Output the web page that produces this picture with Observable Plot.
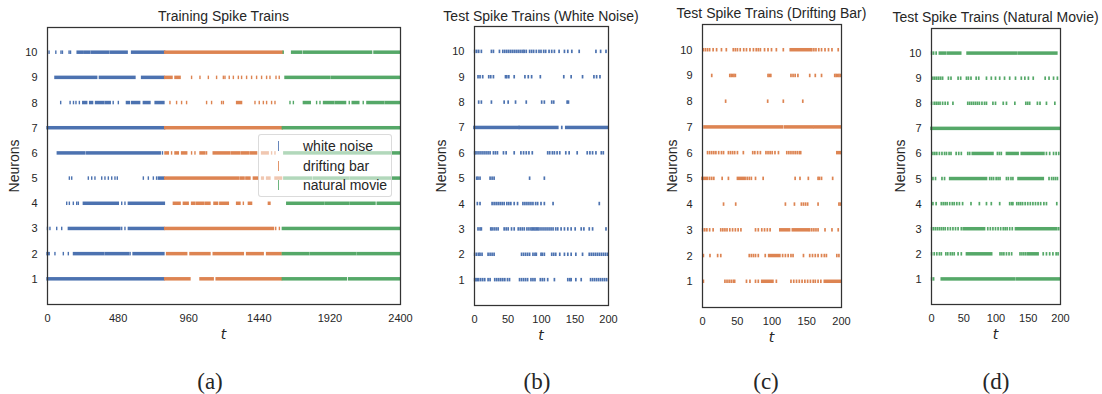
<!DOCTYPE html>
<html>
<head>
<meta charset="utf-8">
<script src="https://cdn.jsdelivr.net/npm/d3@7"></script>
<script src="https://cdn.jsdelivr.net/npm/@observablehq/plot@0.6"></script>
<style>
  html, body { margin: 0; padding: 0; background: #fff; }
  #root { position: relative; width: 1102px; height: 394px; overflow: hidden;
          font-family: "Liberation Sans", Arial, sans-serif; color: #262626; }
  .abs { position: absolute; white-space: nowrap; line-height: 1; }
  .center { transform: translate(-50%, -50%); }
  .title { font-size: 14px; }
  .ylab { font-size: 14px; transform: translate(-50%, -50%) rotate(-90deg); }
  .xlab { font-family: "DejaVu Sans", sans-serif; font-style: italic; font-size: 14px; }
  .cap { font-family: "Liberation Serif", "DejaVu Serif", serif; font-size: 23px; }
  .panel { position: absolute; top: 0; }
  .legend { position: absolute; border: 1px solid rgba(210,210,210,0.8); border-radius: 3px;
            background: rgba(255,255,255,0.55); box-sizing: border-box; }
  .lgtext { font-size: 14px; }
</style>
</head>
<body>
<div id="root"></div>
<script>
// ---------------- data ----------------
const neurons = [1, 2, 3, 4, 5, 6, 7, 8, 9, 10];
const trainTicks = [0, 480, 960, 1440, 1920, 2400];
const testTicks = [0, 50, 100, 150, 200];
const stimuli = ["white noise", "drifting bar", "natural movie"];
const stimulusColors = ["#4c72b0", "#dd8452", "#55a868"];
const trainWindows = [[0, 800], [800, 1600], [1600, 2400]];

// spike trains: one list per neuron (1..10); a number is a single spike,
// a pair is a dense burst of spikes from start to end
const trainingSpikes = [
  [[0,795],[800,972],[1040,1130],[1150,1595],[1600,2035],[2050,2400]],
  [[0,15],54,111,145,[180,385],[395,555],565,[585,795],[813,950],[972,1108],[1130,1335],[1357,1470],[1493,1592],[1600,1780],[1790,2100],[2110,2400]],
  [3,20,66,100,[145,496],508,530,[553,795],[800,1540],1555,1580,[1600,2400]],
  [134,152,179,202,213,[247,485],508,530,[553,798],[859,905],[927,960],[983,1006],[1017,1063],[1074,1108],[1135,1160],[1175,1233],[1289,1312],1335,[1369,1391],[1505,1516],[1630,1880],[1890,2050],[2060,2230],[2245,2400]],
  [152,168,281,304,326,372,394,417,440,462,478,655,689,723,745,[757,795],[800,1301],[1312,1340],[1352,1380],[1403,1437],[1459,1471],[1493,1516],[1550,1595],[1610,1800],[1812,2050],[2060,2400]],
  [[70,258],[270,770],785,[802,825],847,[870,893],[915,950],983,1006,[1040,1074],1085,[1130,1244],[1255,1312],[1323,1369],[1380,1425],[1459,1504],1527,1550,[1610,2400]],
  [[0,2400]],
  [93,157,180,197,220,[243,270],[290,310],[330,385],[395,430],450,485,[540,560],[575,630],[655,700],[735,795],836,881,915,949,1085,1119,1187,1199,[1289,1323],1414,1443,1471,1493,1527,1550,1652,1675,[1743,1790],1833,1856,[1880,1950],[1960,2030],2055,[2075,2120],2150,[2175,2290],[2300,2400]],
  [[54,338],[356,598],[643,795],[800,850],[870,905],983,1040,1097,1153,1199,1210,1239,1267,1301,1323,1357,1391,1425,1459,1493,1516,1557,1579,[1618,1924],[1935,2400]],
  [14,60,95,105,150,160,[205,240],[250,290],[300,420],[430,545],[575,1600],1606,[1663,1731],[1743,2207],[2223,2400]]
];

const whiteNoiseSpikes = [
  [1,3,5,7,10,13,16,21,24,31,34,37,40,43,46,50,53,68,71,74,77,80,85,88,91,99,102,105,110,120,140,143,145,152,160,174,177,180,183,186,189,192,195,198],
  [1,4,7,9,12,21,24,27,30,71,74,77,80,83,88,91,93,100,102,105,116,119,122,128,135,140,145,152,162,172,175,178,181,184,187,190,193,196,199],
  [6,9,11,25,27,30,33,36,45,48,51,56,60,66,69,72,75,79,82,85,87,89,91,93,95,97,100,103,106,109,112,115,118,122,125,130,135,140,145,151,160,164,172,177,197],
  [5,9,27,30,33,36,39,42,45,49,52,55,60,65,73,76,79,82,85,88,92,95,100,105,118,187],
  [4,6,9,24,27,30,83,105],
  [1,3,6,9,12,15,18,21,24,29,32,35,44,48,60,70,74,78,82,87,110,113,117,120,124,128,137,142,154,169,173,177,182,190,193],
  [[0,65],67,[68,125],131,[137,199]],
  [7,11,26,45,51,62,78,101,105,116,119,139,141],
  [6,9,13,22,25,29,47,49,52,60,76,81,86,99,134,145,162,179,183,188],
  [1,4,7,11,26,29,38,43,46,49,52,55,58,61,64,67,70,73,75,78,83,86,89,93,97,100,104,107,112,116,120,127,135,140,146,157,182,189,197]
];

const driftingBarSpikes = [
  [2,33,36,39,42,45,47,64,69,77,81,[86,102],107,128,132,136,140,144,148,152,156,160,163,167,171,[176,199]],
  [2,11.5,22.5,27,68,71,74,77,81,91,[96,112],116,120,124,128,131,146,155,159,163,167,172,176,179,194,197],
  [1,4,7,11,16,27,30,33,36,40,44,48,52,56,77,81,86,90,94,98,[112,126],[130,153],155,158,161,164,167,177,187,196],
  [31,48.5,120,133,143,146,149,152,167,197,199],
  [[0,8],11,14,17,29,38,[51,62],65,68,71,77,88,134,141,153,167,169,172,188],
  [8,11,14,17,20,24,28,31,38,41,44,47,51,59.5,73,76,80,84,92,95,98,101,105,110,122,125,128,131,134,137,140,142,[194,200]],
  [[3,116],[119,159],[161,200]],
  [34,94.5,117,145],
  [14,40,42,44,46,48,95,97,99,128,131,134,138,155,163,172,191,193,195,197,199],
  [2,5,8,11,16,21,28,35,45,48,51,55,60,64,69,74,78,81,84,90,95,100,107,117,[127,156],158,161,164,168,172,177,182,187,196]
];

const naturalMovieSpikes = [
  [1,4,[16,130],[133,200]],
  [1,5,9,13,16,23,26,30,33,36,42,47,[55,94],107,110,113,117,121,125,138,141,144,147,[150,166],174,179,184,189,194,197],
  [1,4,7,10,13,16,19,22,26,30,34,38,42,47,[50,83],88,92,96,100,104,108,112,115,118,122,126,[131,195],198],
  [3,8,16,19,22,25,29,33,36,40,44,49,62,75,86,93.5,106.5,122,125,127,133,136,139,142,146,150,154,158,162,166,170,175,179,195],
  [3,7,17,21,[29,86],91,94,97,101,104,107,117,120,124,127,[135,174],183,187,190,193,196],
  [3,6,9,13,17,21,24,28,31,39,43,47,57,60,[64,96],103,106,109,[117,135],[140,175],179,184,190,194,198],
  [[0,200]],
  [1,5,8,11,14,18,22,26,34,57,60,63,66,69,72,75,79,83,86,96,100,112,117,130,147,150,153,165,169,179,192],
  [3,6,9,12,15,18,27,31,42,46,55,58,62,70,74,86,93.5,100,106.5,114,122,131,140,145.5,151,158.5,177,183,190,196],
  [1,4,8,[13,23],[26,46],[56,132],[135,195]]
];

// ---------------- helpers ----------------
function toRows(trains) {
  const rows = [];
  trains.forEach((train, i) => train.forEach(v => {
    const [a, b] = typeof v === "number" ? [v, v] : v;
    rows.push({n: neurons[i], a, b});
  }));
  return rows;
}
function splitByStimulus(rows) {
  const out = [];
  for (const r of rows) {
    trainWindows.forEach(([s0, s1], k) => {
      const last = k === trainWindows.length - 1;
      if (r.a === r.b) {
        if (r.a >= s0 && (r.a < s1 || (last && r.a <= s1))) out.push({n: r.n, a: r.a, b: r.b, stim: stimuli[k]});
      } else {
        const lo = Math.max(r.a, s0), hi = Math.min(r.b, s1);
        if (lo < hi) out.push({n: r.n, a: lo, b: hi, stim: stimuli[k]});
      }
    });
  }
  return out;
}

const root = document.getElementById("root");
function addText(cls, text, x, y) {
  const d = document.createElement("div");
  d.className = "abs " + cls;
  d.textContent = text;
  d.style.left = x + "px";
  d.style.top = y + "px";
  root.appendChild(d);
  return d;
}

const panels = [
  {left: 0, width: 420, height: 345, ml: 47, mr: 20, mt: 27, mb: 41, domain: [0, 2400], ticks: trainTicks,
   rows: splitByStimulus(toRows(trainingSpikes)), fill: "stim", hw: 0.7,
   title: "Training Spike Trains", titleY: 16, ylabX: 14, cap: "(a)", capX: 210},
  {left: 420, width: 200, height: 345, ml: 54, mr: 12, mt: 26, mb: 40, domain: [0, 200], ticks: testTicks,
   rows: toRows(whiteNoiseSpikes), fill: stimulusColors[0], hw: 0.85,
   title: "Test Spike Trains (White Noise)", titleY: 15.5, ylabX: 441, cap: "(b)", capX: 537},
  {left: 650, width: 200, height: 345, ml: 52, mr: 9, mt: 24, mb: 38, domain: [0, 200], ticks: testTicks,
   rows: toRows(driftingBarSpikes), fill: stimulusColors[1], hw: 0.85,
   title: "Test Spike Trains (Drifting Bar)", titleY: 13, ylabX: 672, cap: "(c)", capX: 766},
  {left: 880, width: 200, height: 345, ml: 51, mr: 20, mt: 28, mb: 41, domain: [0, 200], ticks: testTicks,
   rows: toRows(naturalMovieSpikes), fill: stimulusColors[2], hw: 0.85,
   title: "Test Spike Trains (Natural Movie)", titleY: 16.5, ylabX: 900, cap: "(d)", capX: 996}
];

for (const p of panels) {
  const svg = Plot.plot({
    width: p.width, height: p.height,
    marginLeft: p.ml, marginRight: p.mr, marginTop: p.mt, marginBottom: p.mb,
    style: {fontFamily: '"Liberation Sans", Arial, sans-serif', fontSize: "11px", color: "#262626",
            background: "transparent", overflow: "visible"},
    x: {domain: p.domain},
    y: {domain: [0, 11]},
    color: {domain: stimuli, range: stimulusColors},
    marks: [
      Plot.rect(p.rows, {x1: "a", x2: "b", y1: "n", y2: "n", fill: p.fill,
        insetLeft: -p.hw, insetRight: -p.hw, insetTop: -1.75, insetBottom: -1.75}),
      Plot.axisX(p.ticks, {tickSize: 0, tickPadding: 10, label: null, tickFormat: d3.format("d")}),
      Plot.axisY(neurons, {tickSize: 0, tickPadding: 10, label: null, tickFormat: d3.format("d")}),
      Plot.frame({stroke: "#333", strokeWidth: 1.25})
    ]
  });
  const wrap = document.createElement("div");
  wrap.className = "panel";
  wrap.style.left = p.left + "px";
  wrap.appendChild(svg);
  root.appendChild(wrap);

  const fx0 = p.left + p.ml, fx1 = p.left + p.width - p.mr;
  const fy0 = p.mt, fy1 = p.height - p.mb;
  const cx = (fx0 + fx1) / 2;
  addText("title center", p.title, cx, p.titleY);
  addText("ylab", "Neurons", p.ylabX, (fy0 + fy1) / 2);
  addText("xlab center", "t", cx, fy1 + 30);
  addText("cap center", p.cap, p.capX, 381);
}

// legend for the training panel
const lg = document.createElement("div");
lg.className = "legend";
lg.style.left = "258px"; lg.style.top = "134px"; lg.style.width = "134px"; lg.style.height = "63px";
root.appendChild(lg);
stimuli.forEach((s, k) => {
  const y = 146 + k * 19.5;
  const m = document.createElement("div");
  m.className = "abs";
  m.style.left = "277.5px"; m.style.top = (y - 5) + "px";
  m.style.width = "1.6px"; m.style.height = "10px";
  m.style.background = stimulusColors[k];
  m.style.opacity = "0.85";
  root.appendChild(m);
  const t = addText("lgtext", s, 303, y);
  t.style.transform = "translate(0, -50%)";
});
</script>
</body>
</html>
